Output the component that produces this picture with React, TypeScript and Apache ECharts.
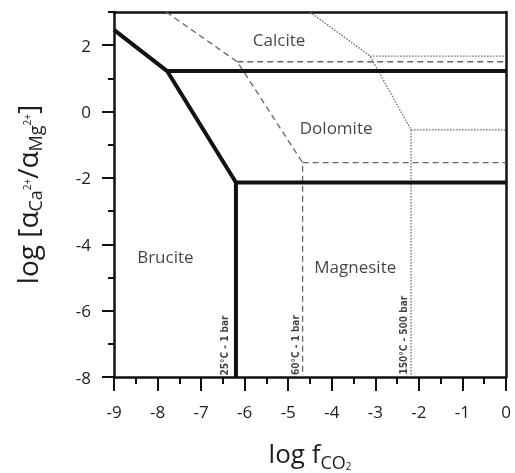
import React, { useEffect, useRef } from 'react';
import * as echarts from 'echarts';

const xTicks = [-9, -8, -7, -6, -5, -4, -3, -2, -1, 0];
const yMajorTicks = [-8, -6, -4, -2, 0, 2];

// 25°C - 1 bar (thick solid)
const brucite25 = [[-9, 2.46], [-7.78, 1.22], [-6.2, -2.14], [-6.2, -8]];
const calcDol25 = [[-7.78, 1.22], [0, 1.22]];
const dolMag25 = [[-6.2, -2.14], [0, -2.14]];
// 60°C - 1 bar (dashed)
const brucite60 = [[-7.8, 3], [-6.17, 1.5], [-4.67, -1.54], [-4.67, -8]];
const calcDol60 = [[-6.17, 1.5], [0, 1.5]];
const dolMag60 = [[-4.67, -1.54], [0, -1.54]];
// 150°C - 500 bar (dotted)
const brucite150 = [[-4.5, 3], [-3.12, 1.67], [-2.18, -0.55], [-2.18, -8]];
const calcDol150 = [[-3.12, 1.67], [0, 1.67]];
const dolMag150 = [[-2.18, -0.55], [0, -0.55]];

const fieldNames = ['Calcite', 'Dolomite', 'Brucite', 'Magnesite'];
const fieldX = [-5.21, -3.9, -7.82, -3.46];
const fieldY = [2.16, -0.49, -4.38, -4.68];

const curveNames = ['25°C - 1 bar', '60°C - 1 bar', '150°C - 500 bar'];
const curveLabelX = [-6.46, -4.83, -2.35];
const curveLabelY = [-7.05, -7.04, -6.74];

const FONT = 'Open Sans';
const INK = '#151515';
const AXIS = '#111';

export default function App() {
  const ref = useRef<HTMLDivElement>(null);
  useEffect(() => {
    if (!ref.current) return;
    const chart = echarts.init(ref.current, null, { renderer: 'svg' });
    const solid = { color: '#111', width: 4, type: 'solid' as const };
    const dashed = { color: '#666', width: 1.3, type: [6, 4] };
    const dotted = { color: '#666', width: 1.3, type: [1.5, 1.5] };
    const lineSeries = (data: number[][], lineStyle: any) => ({
      type: 'line',
      data,
      symbol: 'none',
      showSymbol: false,
      lineStyle,
      silent: true,
      clip: true,
      z: lineStyle.width > 2 ? 3 : 2,
    });
    const frameAxis = (position: string, min: number, max: number) => ({
      type: 'value',
      position,
      min,
      max,
      axisLine: { show: true, onZero: false, lineStyle: { color: AXIS, width: 2.5 } },
      axisTick: { show: false },
      axisLabel: { show: false },
      splitLine: { show: false },
    });
    chart.setOption({
      animation: false,
      grid: {
        left: 114,
        top: 12,
        width: 392,
        height: 365,
        containLabel: false,
        outerBoundsMode: 'none',
      },
      xAxis: [
        {
          type: 'value',
          min: -9,
          max: 0,
          interval: 1,
          position: 'bottom',
          axisLine: { onZero: false, lineStyle: { color: AXIS, width: 2.5 } },
          axisTick: { length: 14, lineStyle: { color: AXIS, width: 2 } },
          minorTick: { show: true, splitNumber: 2, length: 7, lineStyle: { color: AXIS, width: 2 } },
          splitLine: { show: false },
          axisLabel: {
            margin: 26,
            fontSize: 17,
            color: '#1e1e1e',
            fontFamily: FONT,
            showMinLabel: true,
            showMaxLabel: true,
            formatter: (v: number) => (xTicks.includes(v) ? String(v) : ''),
          },
          name: '{m|log f}{s|CO}{t|2}',
          nameLocation: 'middle',
          nameGap: 57,
          nameTextStyle: {
            rich: {
              m: { fontSize: 26, lineHeight: 37, fontFamily: FONT, color: '#1e1e1e' },
              s: { fontSize: 18, lineHeight: 14, verticalAlign: 'bottom', fontFamily: FONT, color: '#1e1e1e' },
              t: { fontSize: 10, lineHeight: 8, verticalAlign: 'bottom', fontFamily: FONT, color: '#1e1e1e' },
            },
          },
        },
        frameAxis('top', -9, 0),
      ],
      yAxis: [
        {
          type: 'value',
          min: -8,
          max: 3,
          interval: 1,
          position: 'left',
          axisLine: { onZero: false, lineStyle: { color: AXIS, width: 2.5 } },
          axisTick: { length: 6, lineStyle: { color: AXIS, width: 2 } },
          axisLabel: { show: false },
          splitLine: { show: false },
          name: '{m|log [α}{s|Ca}{p|2+}{m|/α}{s|Mg}{p|2+}{m|]}',
          nameLocation: 'middle',
          nameRotate: 90,
          nameGap: 70,
          nameTextStyle: {
            rich: {
              m: { fontSize: 28, lineHeight: 34, fontFamily: FONT, color: '#1e1e1e' },
              s: { fontSize: 18, lineHeight: 22, verticalAlign: 'bottom', fontFamily: FONT, color: '#1e1e1e' },
              p: { fontSize: 10, lineHeight: 12, fontFamily: FONT, color: '#1e1e1e' },
            },
          },
        },
        {
          type: 'value',
          min: -8,
          max: 3,
          interval: 1,
          position: 'left',
          axisLine: { show: false, onZero: false },
          axisTick: { show: true, length: 12, customValues: yMajorTicks, lineStyle: { color: AXIS, width: 2 } },
          axisLabel: {
            customValues: yMajorTicks,
            margin: 23,
            fontSize: 17,
            color: '#1e1e1e',
            fontFamily: FONT,
          },
          splitLine: { show: false },
        },
        frameAxis('right', -8, 3),
      ],
      series: [
        lineSeries(brucite60, dashed),
        lineSeries(calcDol60, dashed),
        lineSeries(dolMag60, dashed),
        lineSeries(brucite150, dotted),
        lineSeries(calcDol150, dotted),
        lineSeries(dolMag150, dotted),
        lineSeries(brucite25, solid),
        lineSeries(calcDol25, solid),
        lineSeries(dolMag25, solid),
        {
          type: 'scatter',
          symbolSize: 0,
          itemStyle: { color: 'rgba(0,0,0,0)' },
          silent: true,
          data: fieldNames.map((n, i) => ({ value: [fieldX[i], fieldY[i]], name: n })),
          label: {
            show: true,
            position: 'inside',
            formatter: (p: any) => p.name,
            fontSize: 17,
            color: INK,
            fontFamily: FONT,
          },
          labelLayout: { hideOverlap: false },
          z: 5,
        },
        {
          type: 'scatter',
          symbolSize: 0,
          itemStyle: { color: 'rgba(0,0,0,0)' },
          silent: true,
          data: curveNames.map((n, i) => ({ value: [curveLabelX[i], curveLabelY[i]], name: n })),
          label: {
            show: true,
            position: 'inside',
            rotate: 90,
            formatter: (p: any) => p.name,
            fontSize: 10,
            fontWeight: 'bold',
            color: '#111',
            fontFamily: 'Liberation Sans Narrow, DejaVu Sans Condensed, sans-serif',
          },
          z: 5,
        },
      ],
    });
    return () => chart.dispose();
  }, []);
  return (
    <div
      ref={ref}
      style={{ position: 'fixed', left: 0, top: 0, width: 515, height: 473 }}
    />
  );
}
